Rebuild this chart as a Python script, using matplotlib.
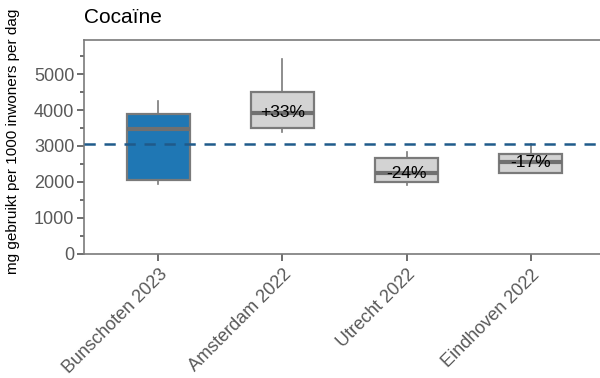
import matplotlib
matplotlib.use("Agg")
import matplotlib.pyplot as plt

plt.rcParams['font.family'] = ['Liberation Sans', 'DejaVu Sans']

# per city: whisker low, Q1, median, Q3, whisker high (mg per 1000 inhabitants per day)
cities = ["Bunschoten 2023", "Amsterdam 2022", "Utrecht 2022", "Eindhoven 2022"]
whislo = [1930, 3390, 1910, 2242]
q1 = [2045, 3500, 2000, 2242]
med = [3460, 3920, 2235, 2540]
q3 = [3880, 4490, 2670, 2772]
whishi = [4260, 5420, 2840, 3060]
changes = [None, "+33%", "-24%", "-17%"]
reference = 3060

fig = plt.figure(figsize=(6, 3.78), dpi=100)
ax = fig.add_axes([0.14, 0.329, 0.86, 0.565])

stats = []
for i, name in enumerate(cities):
    stats.append(dict(label=name, whislo=whislo[i], q1=q1[i], med=med[i],
                      q3=q3[i], whishi=whishi[i], fliers=[]))

bp = ax.bxp(stats, positions=range(len(cities)), widths=0.51, patch_artist=True,
            showcaps=False,
            boxprops=dict(edgecolor="#7a7a7a", linewidth=1.6),
            medianprops=dict(color="#707070", linewidth=3, solid_capstyle="butt"),
            whiskerprops=dict(color="#7a7a7a", linewidth=1.2))
for i, box in enumerate(bp["boxes"]):
    box.set_facecolor("#1f77b4" if i == 0 else "#d3d3d3")

ax.axhline(reference, color="#1f5a8a", linewidth=1.8, linestyle=(0, (4.5, 3.5)), zorder=5)

for i, txt in enumerate(changes):
    if txt:
        ax.text(i, med[i], txt, ha="center", va="center", fontsize=12.5, color="black", zorder=6)

ax.set_xlim(-0.6, 3.56)
ax.set_ylim(0, 5950)
ax.set_yticks([0, 1000, 2000, 3000, 4000, 5000])
ax.set_yticks(range(500, 6000, 1000), minor=True)
ax.set_xticks(range(len(cities)))
ax.set_xticklabels(cities, rotation=45, ha="right", rotation_mode="anchor")

for side in ["left", "bottom", "top", "right"]:
    ax.spines[side].set_color("#7a7a7a")
    ax.spines[side].set_linewidth(1.2)
ax.spines["right"].set_visible(False)
ax.tick_params(axis="both", colors="#555555", labelsize=13, length=5, width=1.2)
ax.tick_params(axis="y", which="minor", length=3, width=1.2, colors="#555555")
ax.tick_params(axis="y", labelcolor="#595959", pad=2)
ax.tick_params(axis="x", labelcolor="#595959", pad=4)

ax.set_ylabel("mg gebruikt per 1000 inwoners per dag", fontsize=11, color="black")
ax.yaxis.set_label_coords(-0.124, 0.525)
fig.text(0.14, 0.953, "Cocaïne", fontsize=15, color="black", ha="left", va="center")

fig.savefig("out.png", dpi=100)
